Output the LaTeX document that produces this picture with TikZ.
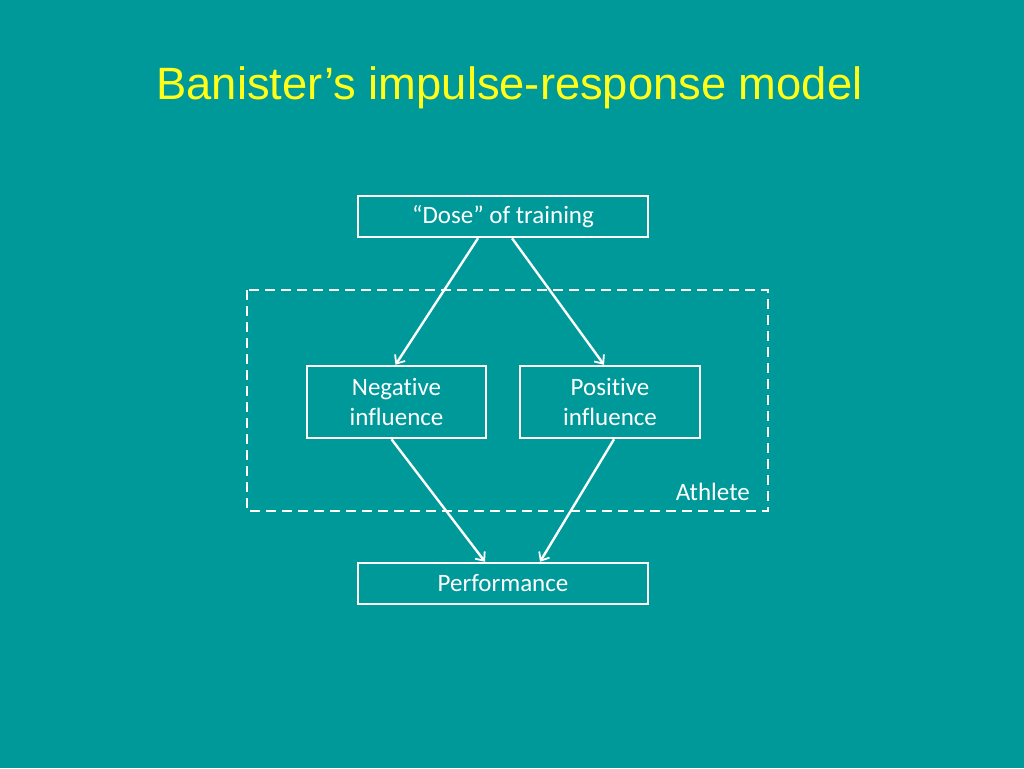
\documentclass[tikz,border=0pt]{standalone}
\usepackage{fontspec}
\setmainfont{Carlito}[Ligatures=NoCommon]
\newfontfamily\titlefont{Liberation Sans}
\usepackage{xcolor}
\usetikzlibrary{arrows.meta}
\definecolor{slideteal}{HTML}{009999}
\definecolor{slideyellow}{HTML}{FFFF1A}

\begin{document}
\begin{tikzpicture}[x=1pt,y=-1pt]
\tikzstyle{every node}+=[inner sep=0pt]
\tikzstyle{box}=[draw=white,line width=2.5pt,text=white,font=\fontsize{25}{30}\selectfont,align=center]
\tikzstyle{link}=[draw=white,line width=2.4pt,-{Straight Barb[length=7pt,width=12pt,line width=1.8pt]}]
\fill [slideteal] (0,0) rectangle (1024,768);
\useasboundingbox (0,0) rectangle (1024,768);
\node (title) at (509.5,88) {\titlefont\fontsize{45.3}{54}\selectfont\color{slideyellow}Banister’s impulse-response model};
\draw [white,line width=2.5pt,dash pattern=on 10pt off 6pt] (247,290) rectangle (768,511);
\node [text=white,font=\fontsize{25}{30}\selectfont,anchor=east] (athlete) at (750,492) {Athlete};
\node [box,minimum width=290pt,minimum height=41pt] (dose) at (503,216.5) {“Dose” of training};
\node [box,minimum width=179pt,minimum height=72pt] (neg) at (396.5,402) {Negative\\influence};
\node [box,minimum width=180pt,minimum height=72pt] (pos) at (610,402) {Positive\\influence};
\node [box,minimum width=290pt,minimum height=41pt] (perf) at (503,583.5) {Performance};
\draw [link] ([xshift=-25pt]dose.south) -- ([xshift=-1pt]neg.north);
\draw [link] ([xshift=9pt]dose.south) -- ([xshift=-6pt]pos.north);
\draw [link] ([xshift=-5pt]neg.south) -- ([xshift=-18pt]perf.north);
\draw [link] ([xshift=4pt]pos.south) -- ([xshift=37pt]perf.north);
\end{tikzpicture}
\end{document}
